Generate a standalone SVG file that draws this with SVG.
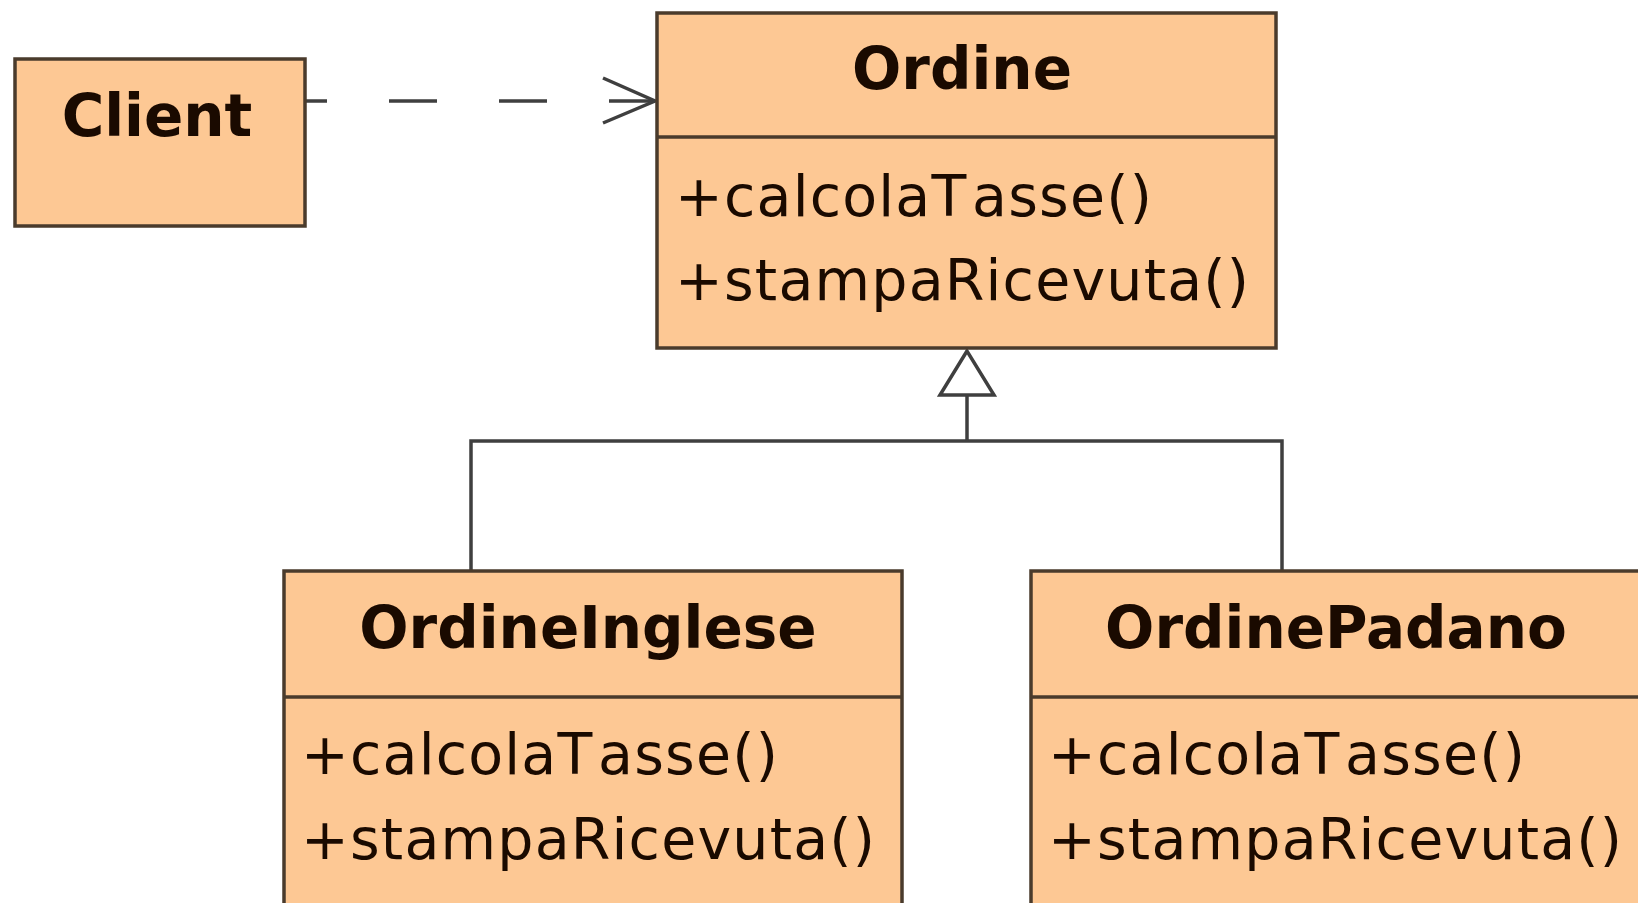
<svg xmlns="http://www.w3.org/2000/svg" width="1638" height="903" viewBox="0 0 1638 903">
<style>
.box{fill:#fdc894;stroke:#4a3b2c;stroke-width:3.5}
.div{stroke:#4a3b2c;stroke-width:3.5}
.title{font-family:"DejaVu Sans",sans-serif;font-weight:bold;font-size:58px;fill:#1a0a00;text-anchor:middle}
.op{font-family:"DejaVu Sans",sans-serif;font-size:57px;fill:#1a0a00;letter-spacing:1.2px}
.conn{stroke:#3f3f3f;stroke-width:3.5;fill:none}
</style>
<rect width="1638" height="903" fill="#ffffff"/>
<g id="connectors">
<line class="conn" x1="305" y1="101" x2="654" y2="101" stroke-dasharray="48 62" stroke-dashoffset="26"/>
<polyline class="conn" points="603,78 655,101 603,123"/>
<polyline class="conn" points="471,571 471,441 1282,441 1282,571"/>
<line class="conn" x1="967" y1="441" x2="967" y2="395"/>
<polygon class="conn" points="967,351 940,395 994,395" fill="#ffffff"/>
</g>
<g id="Client">
<rect class="box" x="15" y="59" width="290" height="167"/>
<text class="title" x="157" y="136">Client</text>
</g>
<g id="Ordine">
<rect class="box" x="657" y="13" width="619" height="335"/>
<line class="div" x1="657" y1="137" x2="1276" y2="137"/>
<text class="title" x="962" y="89">Ordine</text>
<text class="op" x="675" y="216">+calcolaT<tspan dx="14">asse()</tspan></text>
<text class="op" x="675" y="300">+stampaRicevuta()</text>
</g>
<g id="OrdineInglese">
<rect class="box" x="284" y="571" width="618" height="345"/>
<line class="div" x1="284" y1="697" x2="902" y2="697"/>
<text class="title" x="588" y="648">OrdineInglese</text>
<text class="op" x="301" y="774">+calcolaT<tspan dx="14">asse()</tspan></text>
<text class="op" x="301" y="859">+stampaRicevuta()</text>
</g>
<g id="OrdinePadano">
<rect class="box" x="1031" y="571" width="630" height="345"/>
<line class="div" x1="1031" y1="697" x2="1661" y2="697"/>
<text class="title" x="1336" y="648">OrdinePadano</text>
<text class="op" x="1048" y="774">+calcolaT<tspan dx="14">asse()</tspan></text>
<text class="op" x="1048" y="859">+stampaRicevuta()</text>
</g>
</svg>
